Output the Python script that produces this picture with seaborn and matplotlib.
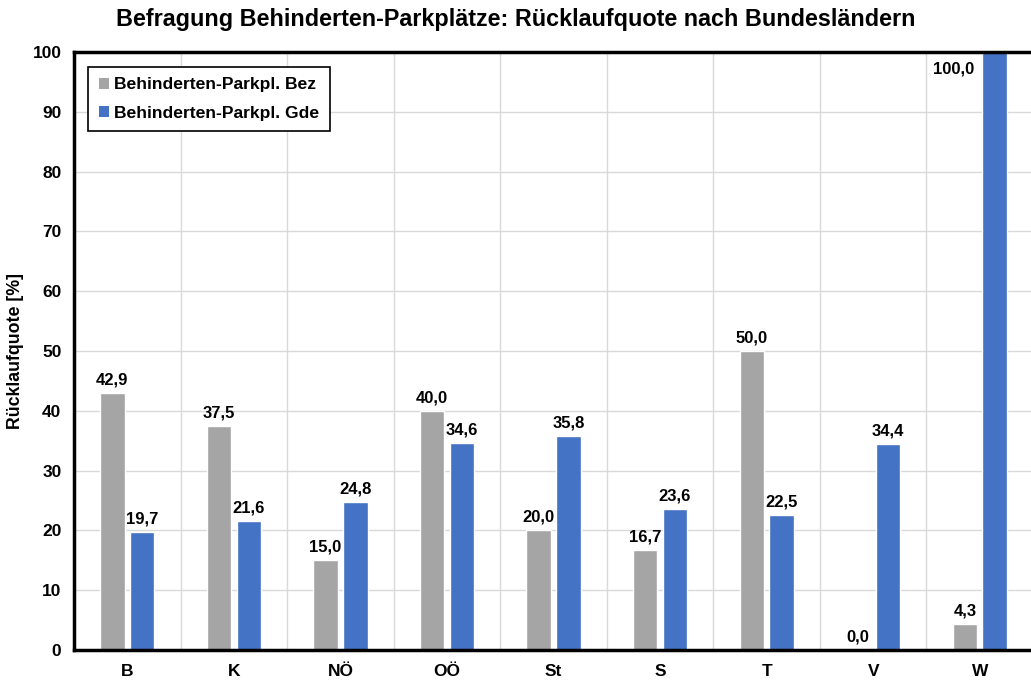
import matplotlib
matplotlib.use("Agg")
import matplotlib.pyplot as plt
import seaborn as sns
import pandas as pd
from matplotlib.patches import Patch

# data
laender = ["B", "K", "NÖ", "OÖ", "St", "S", "T", "V", "W"]
quote_bez = [42.9, 37.5, 15.0, 40.0, 20.0, 16.7, 50.0, 0.0, 4.3]
quote_gde = [19.7, 21.6, 24.8, 34.6, 35.8, 23.6, 22.5, 34.4, 100.0]
serien = ["Behinderten-Parkpl. Bez", "Behinderten-Parkpl. Gde"]
farben = ["#A5A5A5", "#4472C4"]

df = pd.DataFrame({
    "Land": laender * 2,
    "Serie": [serien[0]] * len(laender) + [serien[1]] * len(laender),
    "Quote": quote_bez + quote_gde,
})

sns.set_theme(style="white")
plt.rcParams["font.family"] = ["Liberation Sans", "DejaVu Sans"]
plt.rcParams["font.weight"] = "bold"
for key in ["text.color", "axes.labelcolor", "xtick.color", "ytick.color"]:
    plt.rcParams[key] = "black"

fig = plt.figure(figsize=(10.31, 6.82), dpi=100)
ax = fig.add_axes([74 / 1031, 1 - 650 / 682, 1 - 74 / 1031 + 0.002, (650 - 52) / 682])

sns.barplot(data=df, x="Land", y="Quote", hue="Serie", order=laender, hue_order=serien,
            palette=farben, width=0.56, gap=0.18, saturation=1, legend=False, ax=ax)

# value labels (the 100 % bar gets its label to the left, inside the plot)
for cont, serie in zip(ax.containers, serien):
    for bar in cont:
        h = bar.get_height()
        txt = f"{h:.1f}".replace(".", ",")
        cx = bar.get_x() + bar.get_width() / 2
        if h >= 95:
            ax.annotate(txt, (bar.get_x(), h), xytext=(-6, -7), textcoords="offset points",
                        ha="right", va="top", fontsize=12, fontweight="bold")
        else:
            ax.annotate(txt, (cx, h), xytext=(0, 4), textcoords="offset points",
                        ha="center", va="bottom", fontsize=12, fontweight="bold")

ax.set_ylim(0, 100)
ax.set_yticks(range(0, 101, 10))
ax.set_xlim(-0.5, -0.5 + (1031 - 74) / 107.1)

# grid: horizontal every 10, vertical at category boundaries
ax.set_xticks([i + 0.5 for i in range(-1, len(laender))], minor=True)
ax.grid(True, axis="y", color="#D9D9D9", linewidth=1.0)
ax.grid(True, axis="x", which="minor", color="#D9D9D9", linewidth=1.0)
ax.set_axisbelow(True)

ax.tick_params(axis="x", which="major", length=0, pad=10, labelsize=12.5)
ax.tick_params(axis="x", which="minor", length=5, width=2.5, color="black", direction="out")
ax.tick_params(axis="y", length=5, width=2.5, color="black", direction="out", labelsize=12.5, pad=4)
for lab in ax.get_xticklabels() + ax.get_yticklabels():
    lab.set_fontweight("bold")

for side in ["left", "bottom", "top"]:
    ax.spines[side].set_visible(True)
    ax.spines[side].set_color("black")
    ax.spines[side].set_linewidth(2.5)
ax.spines["right"].set_visible(False)

ax.set_xlabel("")
ax.set_ylabel("Rücklaufquote [%]", fontsize=12.8, fontweight="bold", labelpad=6)
fig.suptitle("Befragung Behinderten-Parkplätze: Rücklaufquote nach Bundesländern",
             fontsize=16.8, fontweight="bold", y=0.988)

handles = [Patch(facecolor=c, edgecolor="none") for c in farben]
leg = ax.legend(handles, serien, loc="upper left", bbox_to_anchor=(0.0146, 0.975),
                borderaxespad=0, fancybox=False, frameon=True, framealpha=1, edgecolor="black",
                handlelength=0.6, handleheight=0.6, handletextpad=0.3,
                borderpad=0.6, labelspacing=0.75, prop={"weight": "bold", "size": 12.6})
leg.get_frame().set_linewidth(1.2)

fig.savefig("out.png", dpi=100)
